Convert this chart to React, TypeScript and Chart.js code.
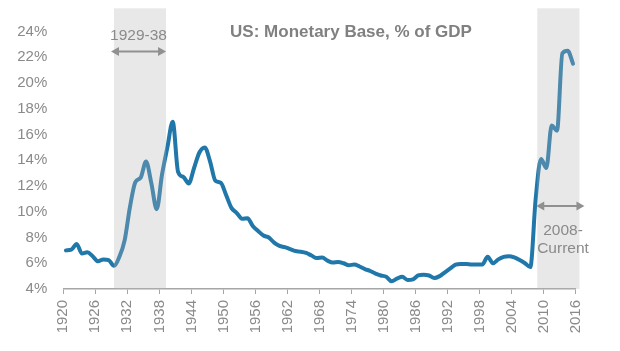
import React, { useEffect, useRef } from "react";
import { Chart, registerables } from "chart.js";

Chart.register(...registerables);

const years: number[] = [];
for (let y = 1920; y <= 2015; y++) years.push(y);

const baseValues: number[] = [
  7.0, 7.05, 7.5, 6.75, 6.85, 6.55, 6.15, 6.3, 6.25, 5.8,
  6.5, 7.8, 10.4, 12.3, 12.65, 13.9, 12.2, 10.2, 12.9, 15.0,
  17.0, 13.1, 12.7, 12.2, 13.4, 14.6, 15.0, 13.9, 12.4, 12.25,
  11.3, 10.3, 9.9, 9.45, 9.5, 8.9, 8.5, 8.15, 8.0, 7.6,
  7.35, 7.25, 7.1, 6.95, 6.9, 6.8, 6.6, 6.4, 6.45, 6.2,
  6.05, 6.1, 6.0, 5.85, 5.9, 5.75, 5.55, 5.4, 5.2, 5.05,
  4.95, 4.6, 4.8, 4.95, 4.7, 4.75, 5.05, 5.1, 5.05, 4.85,
  5.0, 5.3, 5.6, 5.9, 5.95, 5.95, 5.9, 5.9, 5.9, 6.5,
  6.0, 6.3, 6.5, 6.55, 6.45, 6.25, 6.0, 5.7, 11.0, 14.1,
  13.4, 16.7, 16.3, 22.3, 22.5, 21.5,
];

const shadeStarts = [1929.5, 2008.8];
const shadeEnds = [1939.25, 2016.7];
const title = "US: Monetary Base, % of GDP";

const FONT = "'Liberation Sans', Arial, sans-serif";
const GRAY = "#8a8a8a";

const annotationPlugin = {
  id: "annot",
  afterDatasetsDraw(chart: any) {
    const { ctx, scales } = chart;
    const xs = scales.x;
    const ys = scales.y;
    const bottom = ys.getPixelForValue(4);
    const top = ys.getPixelForValue(25.8);
    ctx.save();
    ctx.fillStyle = "rgba(180,180,180,0.3)";
    for (let i = 0; i < shadeStarts.length; i++) {
      const x0 = xs.getPixelForValue(shadeStarts[i]);
      const x1 = xs.getPixelForValue(shadeEnds[i]);
      ctx.fillRect(x0, top, x1 - x0, bottom - top);
    }

    const arrow = (xa: number, xb: number, y: number) => {
      ctx.strokeStyle = "#909090";
      ctx.fillStyle = "#909090";
      ctx.lineWidth = 2;
      const h = 8;
      ctx.beginPath();
      ctx.moveTo(xa + h - 1, y);
      ctx.lineTo(xb - h + 1, y);
      ctx.stroke();
      ctx.beginPath();
      ctx.moveTo(xa, y);
      ctx.lineTo(xa + h, y - 4.5);
      ctx.lineTo(xa + h, y + 4.5);
      ctx.closePath();
      ctx.fill();
      ctx.beginPath();
      ctx.moveTo(xb, y);
      ctx.lineTo(xb - h, y - 4.5);
      ctx.lineTo(xb - h, y + 4.5);
      ctx.closePath();
      ctx.fill();
    };

    // first annotation
    const a0 = xs.getPixelForValue(shadeStarts[0]) - 3;
    const a1 = xs.getPixelForValue(shadeEnds[0]);
    arrow(a0, a1, ys.getPixelForValue(22.45));
    ctx.fillStyle = GRAY;
    ctx.font = `15.5px ${FONT}`;
    ctx.textAlign = "center";
    ctx.textBaseline = "middle";
    ctx.fillText("1929-38", (a0 + a1) / 2, ys.getPixelForValue(23.7));

    // second annotation
    const b0 = xs.getPixelForValue(shadeStarts[1]) - 1;
    const b1 = xs.getPixelForValue(shadeEnds[1]) + 5;
    arrow(b0, b1, ys.getPixelForValue(10.45));
    ctx.fillStyle = GRAY;
    ctx.font = `15.5px ${FONT}`;
    ctx.fillText("2008-", 563, ys.getPixelForValue(8.55));
    ctx.fillText("Current", 563, ys.getPixelForValue(7.15));

    // title
    ctx.fillStyle = "#808080";
    ctx.font = `bold 17px ${FONT}`;
    ctx.fillText(title, 351, ys.getPixelForValue(23.9));
    ctx.restore();
  },
};

export default function App() {
  const ref = useRef<HTMLCanvasElement | null>(null);
  useEffect(() => {
    if (!ref.current) return;
    const chart = new Chart(ref.current, {
      type: "line",
      data: {
        datasets: [
          {
            data: years.map((y, i) => ({ x: y + 0.5, y: baseValues[i] })),
            borderColor: "#2077a9",
            borderWidth: 4,
            pointRadius: 0,
            cubicInterpolationMode: "monotone",
            borderCapStyle: "round",
            borderJoinStyle: "round",
            fill: false,
          },
        ],
      },
      options: {
        animation: false,
        responsive: false,
        maintainAspectRatio: false,
        layout: { padding: { top: 31.5, right: 44.3, bottom: 0, left: 0 } },
        plugins: { legend: { display: false }, tooltip: { enabled: false } },
        scales: {
          x: {
            type: "linear",
            min: 1920,
            max: 2016,
            afterFit: (s: any) => {
              s.height = 62;
            },
            ticks: {
              stepSize: 6,
              autoSkip: false,
              minRotation: 90,
              maxRotation: 90,
              padding: 6,
              color: GRAY,
              font: { family: FONT, size: 15 },
              callback: (v: any) => String(v),
            },
            grid: {
              display: true,
              drawOnChartArea: false,
              drawTicks: true,
              tickLength: 5,
              color: "#a6a6a6",
              lineWidth: 1,
            },
            border: { display: true, color: "#a6a6a6", width: 1.5 },
          },
          y: {
            min: 4,
            max: 24,
            afterFit: (s: any) => {
              s.width = 63.3;
            },
            ticks: {
              stepSize: 2,
              padding: 16,
              color: GRAY,
              font: { family: FONT, size: 15 },
              callback: (v: any) => v + "%",
            },
            grid: { display: false, drawTicks: false },
            border: { display: false },
          },
        },
      },
      plugins: [annotationPlugin],
    });
    return () => chart.destroy();
  }, []);
  return (
    <div style={{ position: "fixed", left: 0, top: 0, width: 620, height: 351, background: "#fff" }}>
      <canvas ref={ref} width={620} height={351} />
    </div>
  );
}
